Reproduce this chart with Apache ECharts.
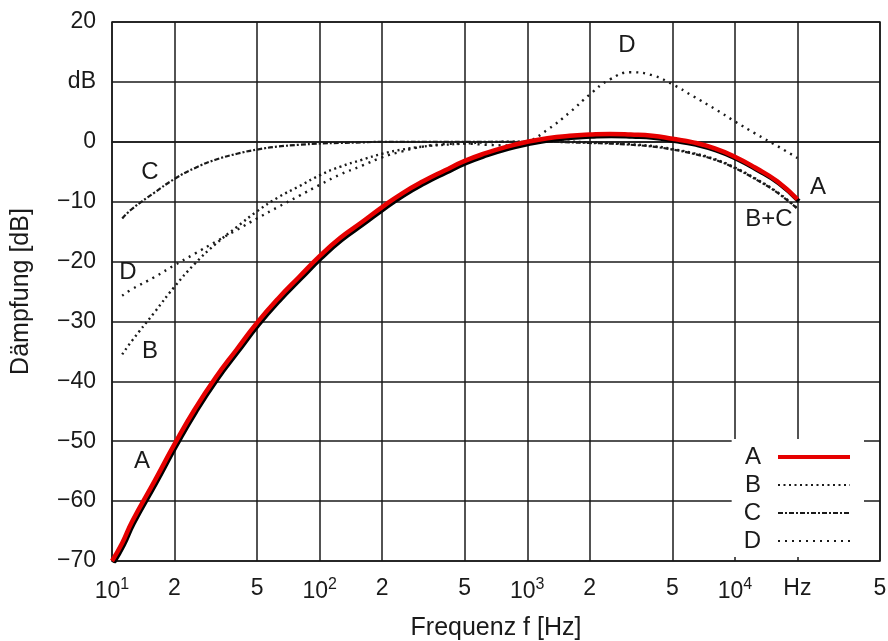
<!DOCTYPE html>
<html>
<head>
<meta charset="utf-8">
<script src="https://cdn.jsdelivr.net/npm/echarts@6/dist/echarts.min.js"></script>
<style>
  html, body { margin: 0; padding: 0; background: #fff; }
  #chart { width: 888px; height: 641px; }
</style>
</head>
<body>
<div id="chart"></div>
<script>
// frequencies in Hz
const freqs = [10, 11.2, 12.5, 16, 20, 25, 31.5, 40, 50, 63, 80, 100, 125, 160, 200, 250, 315, 400, 500, 630, 800,
  1000, 1250, 1600, 2000, 2500, 3150, 4000, 5000, 6300, 8000, 10000, 12500, 16000, 20000]
// attenuation in dB
const curveA = [-70, -67, -63.4, -56.7, -50.5, -44.7, -39.4, -34.6, -30.2, -26.2, -22.5, -19.1, -16.1, -13.4, -10.9, -8.6, -6.6, -4.8, -3.2, -1.9, -0.8,
  0, 0.6, 1.0, 1.2, 1.3, 1.2, 1.0, 0.5, -0.1, -1.1, -2.5, -4.3, -6.6, -9.6]
const curveB = [null, -35.5, -33.2, -28.5, -24.2, -20.4, -17.1, -14.2, -11.6, -9.3, -7.4, -5.6, -4.2, -3.0, -2.0, -1.3, -0.8, -0.5, -0.3, -0.1, 0,
  0, 0, 0, -0.1, -0.2, -0.4, -0.7, -1.2, -1.9, -2.9, -4.3, -6.1, -8.4, -11.1]
const curveC = [null, -12.8, -11.2, -8.5, -6.2, -4.4, -3.0, -2.0, -1.3, -0.8, -0.5, -0.3, -0.2, -0.1, 0, 0, 0, 0, 0, 0, 0,
  0, 0, -0.1, -0.2, -0.3, -0.5, -0.8, -1.3, -2.0, -3.0, -4.4, -6.2, -8.5, -11.2]
const curveD = [null, -25.7, -24.6, -22.6, -20.6, -18.7, -16.7, -14.7, -12.8, -10.9, -9.0, -7.2, -5.5, -4.0, -2.6, -1.6, -0.8, -0.4, -0.3, -0.5, -0.6,
  0, 2.0, 4.9, 7.9, 10.4, 11.6, 11.1, 9.6, 7.6, 5.5, 3.4, 1.4, -0.7, -2.7]

// x grid lines and their labels
const xTicks = [10, 20, 50, 100, 200, 500, 1000, 2000, 5000, 10000, 20000, 50000]
const xTickLabels = ["{b|10}{s|1}", "2", "5", "{b|10}{s|2}", "2", "5", "{b|10}{s|3}", "2", "5", "{b|10}{s|4}", "Hz", "5"]

const font = "Liberation Sans"
const ink = "#1a1a1a"

function pairs(vals) {
	return freqs.map((f, i) => [f, vals[i]])
}

const myChart = echarts.init(document.getElementById("chart"))

const option = {
	animation: false,
	textStyle: { fontFamily: font },
	grid: {
		left: 112, right: 8, top: 22, bottom: 80,
		outerBoundsMode: "none",
		show: true,
		borderColor: ink,
		borderWidth: 1.5,
	},
	xAxis: {
		type: "log",
		logBase: 10,
		min: 10,
		max: 50000,
		axisLabel: { show: false },
		axisTick: { show: false },
		splitLine: { show: false },
		axisLine: { lineStyle: { color: ink, width: 1.5 } },
		name: "Frequenz f [Hz]",
		nameLocation: "middle",
		nameGap: 55,
		nameTextStyle: { fontSize: 25, color: ink, fontFamily: font },
	},
	yAxis: {
		type: "value",
		min: -70,
		max: 20,
		interval: 10,
		axisLine: { show: false },
		axisTick: { show: false },
		splitLine: { lineStyle: { color: ink, width: 1.5 } },
		axisLabel: {
			fontSize: 23,
			color: ink,
			margin: 16,
			formatter: function (v) {
				if (v === 10) return "dB"
				if (v < 0) return "\u2212" + (-v)
				return String(v)
			},
		},
		name: "Dämpfung [dB]",
		nameLocation: "middle",
		nameGap: 78,
		nameTextStyle: { fontSize: 25, color: ink, fontFamily: font },
	},
	legend: {
		data: [{ name: "A", lineStyle: { width: 4, shadowOffsetX: 0, shadowOffsetY: 0 } }, "B", "C", "D"],
		orient: "vertical",
		right: 24,
		bottom: 84,
		align: "right",
		itemWidth: 72,
		itemHeight: 14,
		itemGap: 4,
		backgroundColor: "#fff",
		padding: [6, 12, 4, 12],
		textStyle: { fontSize: 24, color: ink, padding: [0, 12, 0, 0] },
		itemStyle: { opacity: 0 },
	},
	series: [
		{
			name: "grid",
			type: "line",
			data: [],
			silent: true,
			markLine: {
				silent: true,
				z: 1,
				symbol: ["none", "none"],
				lineStyle: { color: ink, width: 1.5, type: "solid" },
				label: {
					show: true,
					position: "start",
					distance: 16,
					color: ink,
					fontSize: 23,
					fontFamily: font,
					rich: {
						b: { fontSize: 23, fontFamily: font, color: ink },
						s: { fontSize: 16, fontFamily: font, color: ink, padding: [0, 0, 14, 0] },
					},
				},
				data: xTicks.map((f, i) => ({ xAxis: f, label: { formatter: xTickLabels[i] } })),
			},
		},
		{
			name: "D",
			type: "line",
			data: pairs(curveD),
			smooth: 0.5,
			symbol: "none",
			lineStyle: { color: ink, width: 2.4, type: [2, 5] },
		},
		{
			name: "B",
			type: "line",
			data: pairs(curveB),
			smooth: 0.5,
			symbol: "none",
			lineStyle: { color: ink, width: 2.4, type: [2, 3.5] },
		},
		{
			name: "C",
			type: "line",
			data: pairs(curveC),
			smooth: 0.5,
			symbol: "none",
			lineStyle: { color: ink, width: 2.2, type: [5, 2, 2, 2] },
		},
		{
			name: "A",
			type: "line",
			data: pairs(curveA),
			smooth: 0.5,
			symbol: "none",
			lineStyle: {
				color: "#e60000", width: 4.5,
				shadowColor: "#000", shadowBlur: 0, shadowOffsetX: 1.5, shadowOffsetY: 2,
			},
		},
	],
	graphic: [
		["C", 150, 172], ["D", 128, 272], ["B", 150, 351], ["A", 142, 461],
		["D", 627, 45], ["A", 818, 187], ["B+C", 769, 219],
	].map(([t, x, y]) => ({
		type: "text",
		x: x, y: y,
		style: { text: t, fontSize: 24, fontFamily: font, fill: ink, align: "center", verticalAlign: "middle" },
	})),
}

myChart.setOption(option)
</script>
</body>
</html>
